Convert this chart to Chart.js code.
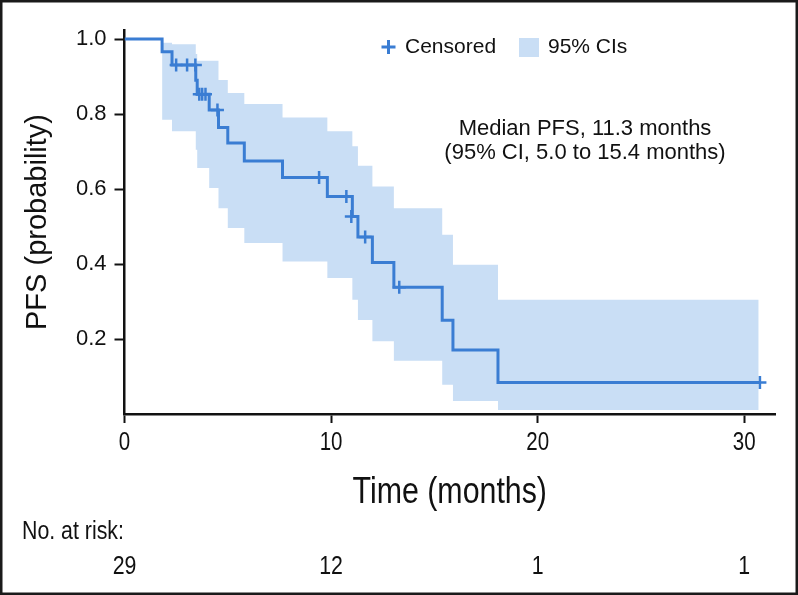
<!DOCTYPE html>
<html>
<head>
<meta charset="utf-8">
<title>PFS Kaplan-Meier</title>
<script src="https://cdn.jsdelivr.net/npm/chart.js@4.4.1/dist/chart.umd.min.js"></script>
<style>
  html, body { margin: 0; padding: 0; background: #fff; }
  #wrap { width: 798px; height: 595px; }
</style>
</head>
<body>
<div id="wrap"><canvas id="kmChart" width="798" height="595"></canvas></div>
<script>
// Kaplan-Meier step curve (months, probability)
const KM_TIME = [0, 1.82, 2.3, 3.45, 3.52, 4.1, 4.55, 5.0, 5.8, 7.65, 9.82, 11.03, 11.3, 12.0, 13.04, 15.38, 15.9, 18.08, 30.76];
const KM_SURV = [1.0, 0.966, 0.931, 0.89, 0.853, 0.811, 0.764, 0.723, 0.675, 0.631, 0.580, 0.527, 0.472, 0.404, 0.338, 0.250, 0.171, 0.084, 0.084];

// 95% CI band (value holds from its time until the next one)
const CI_TIME  = [1.82, 2.3, 3.45, 3.52, 4.1, 4.55, 5.0, 5.8, 7.65, 9.82, 11.03, 11.3, 12.0, 13.04, 15.38, 15.9, 18.08, 30.7];
const CI_UPPER = [0.99, 0.986, 0.96, 0.942, 0.942, 0.891, 0.856, 0.827, 0.791, 0.754, 0.714, 0.662, 0.607, 0.549, 0.478, 0.398, 0.305, 0.305];
const CI_LOWER = [0.785, 0.754, 0.705, 0.656, 0.603, 0.549, 0.496, 0.456, 0.407, 0.363, 0.305, 0.251, 0.194, 0.142, 0.078, 0.035, 0.011, 0.011];

// censored observations
const CENS_TIME = [2.5, 3.03, 3.43, 3.62, 3.76, 3.92, 4.5, 9.42, 10.74, 10.98, 11.65, 13.3, 30.76];
const CENS_SURV = [0.931, 0.931, 0.931, 0.853, 0.853, 0.853, 0.811, 0.631, 0.580, 0.527, 0.472, 0.338, 0.084];

const X_TICKS = [0, 10, 20, 30];
const Y_TICKS = [0.2, 0.4, 0.6, 0.8, 1.0];
const AT_RISK = [29, 12, 1, 1];

const X_TITLE = 'Time (months)';
const Y_TITLE = 'PFS (probability)';
const RISK_TITLE = 'No. at risk:';
const LEGEND_CENSORED = 'Censored';
const LEGEND_CI = '95% CIs';
const NOTE_LINES = ['Median PFS, 11.3 months', '(95% CI, 5.0 to 15.4 months)'];

const LINE_BLUE = '#3a7dd3';
const BAND_BLUE = '#c9def5';
const INK = '#111';
const SANS = "'Liberation Sans', Arial, Helvetica, sans-serif";

function pts(xs, ys) {
  return xs.map((x, i) => ({ x: x, y: ys[i] }));
}

// the bottom texts use a condensed face: squeeze a regular one
function narrowText(ctx, text, x, y, size, align) {
  ctx.save();
  ctx.translate(x, y);
  ctx.scale(0.82, 1);
  ctx.font = size + 'px ' + SANS;
  ctx.textAlign = align;
  ctx.textBaseline = 'middle';
  ctx.fillText(text, 0, 0);
  ctx.restore();
}

// texts outside the plot area: legend, note, titles, risk table, frame
const extrasPlugin = {
  id: 'extras',
  afterDraw(chart) {
    const ctx = chart.ctx;
    const xs = chart.scales.x;
    const area = chart.chartArea;
    ctx.save();
    ctx.fillStyle = INK;
    ctx.textBaseline = 'middle';

    // legend
    ctx.strokeStyle = LINE_BLUE;
    ctx.lineWidth = 3;
    ctx.beginPath();
    ctx.moveTo(381.5, 47); ctx.lineTo(395.5, 47);
    ctx.moveTo(388.5, 40); ctx.lineTo(388.5, 54);
    ctx.stroke();
    ctx.font = '21px ' + SANS;
    ctx.textAlign = 'left';
    ctx.fillText(LEGEND_CENSORED, 405, 47);
    ctx.fillStyle = BAND_BLUE;
    ctx.fillRect(519, 38, 20, 19);
    ctx.fillStyle = INK;
    ctx.fillText(LEGEND_CI, 548, 47);

    // median note
    ctx.font = '22px ' + SANS;
    ctx.textAlign = 'center';
    ctx.fillText(NOTE_LINES[0], 585, 129);
    ctx.fillText(NOTE_LINES[1], 585, 153);

    // y title
    ctx.save();
    ctx.translate(38, (area.top + area.bottom) / 2);
    ctx.rotate(-Math.PI / 2);
    ctx.font = '29px ' + SANS;
    ctx.fillText(Y_TITLE, 0, 0);
    ctx.restore();

    // x tick labels and title
    X_TICKS.forEach(t => {
      narrowText(ctx, String(t), xs.getPixelForValue(t), 443, 25, 'center');
    });
    narrowText(ctx, X_TITLE, (area.left + area.right) / 2, 493, 37, 'center');

    // number at risk
    narrowText(ctx, RISK_TITLE, 22, 532, 26, 'left');
    X_TICKS.forEach((t, i) => {
      narrowText(ctx, String(AT_RISK[i]), xs.getPixelForValue(t), 567, 26, 'center');
    });

    // outer frame
    ctx.strokeStyle = '#1a1a1a';
    ctx.lineWidth = 2.5;
    ctx.strokeRect(1.25, 1.25, chart.width - 2.5, chart.height - 2.5);
    ctx.restore();
  }
};

function renderChart() {
  const ctx = document.getElementById('kmChart');
  new Chart(ctx, {
    type: 'line',
    data: {
      datasets: [
        {
          label: 'CI upper',
          data: pts(CI_TIME, CI_UPPER),
          stepped: 'before',
          borderWidth: 0,
          borderColor: 'rgba(0,0,0,0)',
          pointRadius: 0,
          fill: false,
          order: 2
        },
        {
          label: 'CI lower',
          data: pts(CI_TIME, CI_LOWER),
          stepped: 'before',
          borderWidth: 0,
          borderColor: 'rgba(0,0,0,0)',
          backgroundColor: BAND_BLUE,
          pointRadius: 0,
          fill: '-1',
          order: 3
        },
        {
          label: 'PFS',
          data: pts(KM_TIME, KM_SURV),
          stepped: 'before',
          borderColor: LINE_BLUE,
          borderWidth: 3,
          pointRadius: 0,
          fill: false,
          order: 1
        },
        {
          label: 'Censored',
          data: pts(CENS_TIME, CENS_SURV),
          showLine: false,
          pointStyle: 'cross',
          pointRadius: 6.5,
          pointBorderWidth: 2.5,
          pointBorderColor: LINE_BLUE,
          borderColor: LINE_BLUE,
          clip: false,
          order: 0
        }
      ]
    },
    options: {
      responsive: false,
      animation: false,
      devicePixelRatio: 1,
      layout: { padding: { left: 0, right: 23, top: 30, bottom: 0 } },
      plugins: {
        legend: { display: false },
        tooltip: { enabled: false }
      },
      scales: {
        x: {
          type: 'linear',
          min: 0,
          max: 31.49,
          afterBuildTicks: s => { s.ticks = X_TICKS.map(v => ({ value: v })); },
          afterFit: s => { s.height = 181; },
          border: { display: true, color: INK, width: 2.5 },
          grid: { drawOnChartArea: false, drawTicks: true, tickLength: 9, tickWidth: 2, tickColor: INK },
          ticks: { display: false }
        },
        y: {
          type: 'linear',
          min: 0,
          max: 1.024,
          afterBuildTicks: s => { s.ticks = Y_TICKS.map(v => ({ value: v })); },
          afterFit: s => { s.width = 124.5; },
          border: { display: true, color: INK, width: 2.5 },
          grid: { drawOnChartArea: false, drawTicks: true, tickLength: 10, tickWidth: 2, tickColor: INK },
          ticks: {
            color: INK,
            padding: 8,
            font: { family: SANS, size: 22 },
            callback: v => Number(v).toFixed(1)
          }
        }
      }
    },
    plugins: [extrasPlugin]
  });
}

renderChart();
</script>
</body>
</html>
